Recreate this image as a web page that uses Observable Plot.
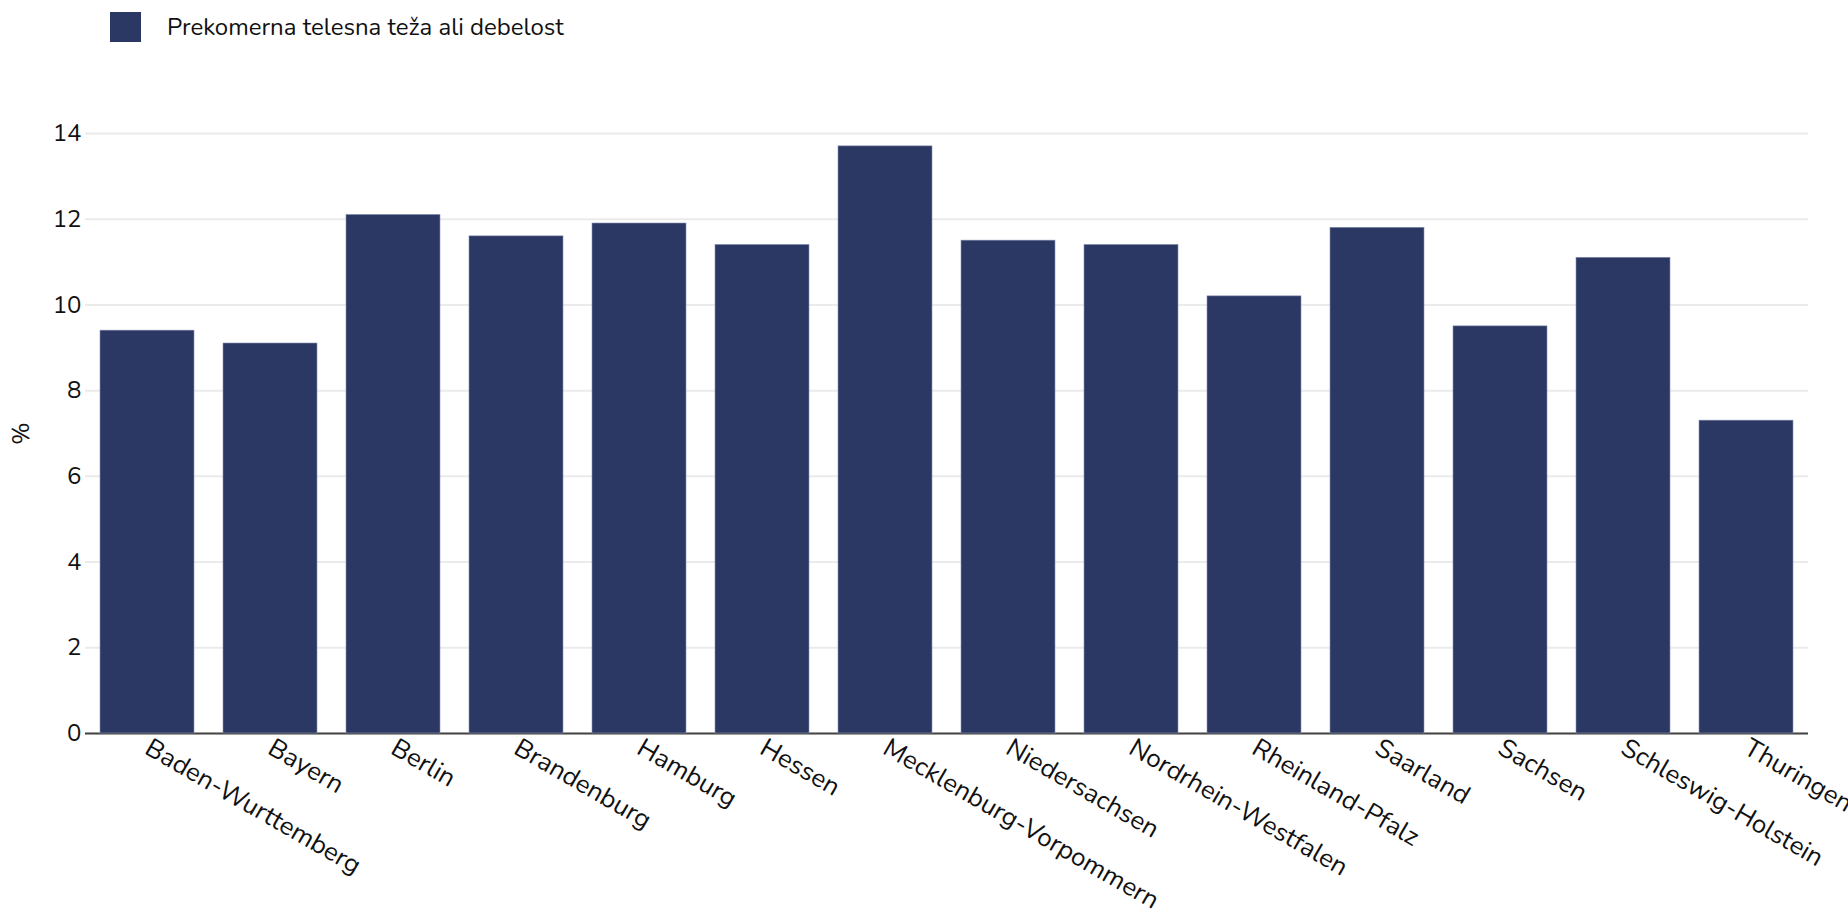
<!DOCTYPE html>
<html>
<head>
<meta charset="utf-8">
<script src="https://cdn.jsdelivr.net/npm/d3@7"></script>
<script src="https://cdn.jsdelivr.net/npm/@observablehq/plot@0.6"></script>
<style>
  html, body { margin: 0; padding: 0; background: #fff; }
  body { font-family: Nunito, Lato, "Open Sans", sans-serif; }
  #legend { position: relative; height: 70px; width: 1848px; }
  #legend .sw { position: absolute; left: 110px; top: 12px; width: 31px; height: 30px; background: #2b3864; }
  #legend .lbl { position: absolute; left: 167px; top: 12px; line-height: 30px; font-size: 24px; color: #111; }
</style>
</head>
<body>
<div id="legend"><div class="sw"></div><div class="lbl">Prekomerna telesna teža ali debelost</div></div>
<div id="chart"></div>
<script>
const states = ["Baden-Wurttemberg", "Bayern", "Berlin", "Brandenburg", "Hamburg", "Hessen",
  "Mecklenburg-Vorpommern", "Niedersachsen", "Nordrhein-Westfalen", "Rheinland-Pfalz",
  "Saarland", "Sachsen", "Schleswig-Holstein", "Thuringen"];
const values = [9.4, 9.1, 12.1, 11.6, 11.9, 11.4, 13.7, 11.5, 11.4, 10.2, 11.8, 9.5, 11.1, 7.3];
const yTicks = [0, 2, 4, 6, 8, 10, 12, 14];
const seriesName = "Prekomerna telesna teža ali debelost";

const data = states.map((s, i) => ({state: s, value: values[i]}));
const barColor = "#2b3864";

const chart = Plot.plot({
  width: 1848,
  height: 853,
  marginTop: 63,
  marginBottom: 190,
  marginLeft: 85,
  marginRight: 40,
  style: {fontFamily: "Nunito, Lato, 'Open Sans', sans-serif", fontSize: "24px", color: "#111", background: "#fff"},
  x: {domain: states, paddingInner: 0.236, paddingOuter: 0.115},
  y: {domain: [0, 14]},
  marks: [
    Plot.gridY(yTicks, {stroke: "#ebebeb", strokeOpacity: 1, strokeWidth: 2}),
    Plot.ruleY([0], {stroke: "#444", strokeWidth: 2}),
    Plot.barY(data, {x: "state", y: "value", fill: barColor, stroke: "#8a91b3", strokeWidth: 0.6, title: d => `${seriesName}: ${d.value}`}),
    Plot.axisY(yTicks, {tickSize: 0, tickPadding: 4, fontSize: 24, label: "%", labelAnchor: "center", labelArrow: "none", labelOffset: 74}),
    Plot.axisX({tickSize: 0, tickPadding: 12, tickRotate: 30, fontSize: 26, label: null})
  ]
});
document.getElementById("chart").appendChild(chart);
</script>
</body>
</html>
